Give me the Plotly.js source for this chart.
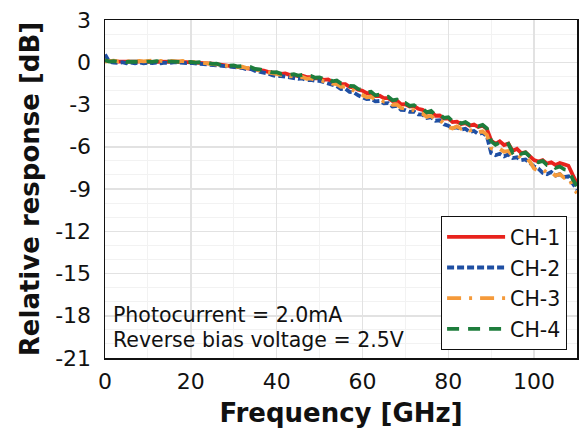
<!DOCTYPE html>
<html>
<head>
<meta charset="utf-8">
<script src="https://cdn.plot.ly/plotly-3.0.1.min.js"></script>
<style>html,body{margin:0;padding:0;background:#fff;}#chart{width:581px;height:428px;}</style>
</head>
<body>
<div id="chart"></div>
<script>
// Frequency [GHz]
const freq = [
  0,1,2,3,4,5,6,7,8,9,10,11,12,13,14,15,16,17,18,19,20,21,22,23,24,25,26,27,28,29,
  30,31,32,33,34,35,36,37,38,39,40,41,42,43,44,45,46,47,48,49,50,51,52,53,54,55,56,57,58,59,
  60,61,62,63,64,65,66,67,68,69,70,71,72,73,74,75,76,77,78,79,80,81,82,83,84,85,86,87,88,89,
  90,91,92,93,94,95,96,97,98,99,100,101,102,103,104,105,106,107,108,109,110];

const ch1 = [
  0.10,0.05,0.06,0.04,0.05,0.03,0.06,0.02,0.05,0.03,
  0.04,0.05,0.06,0.03,0.05,0.06,0.04,0.05,0.02,0.01,
  0.00,-0.02,-0.04,-0.06,-0.08,-0.10,-0.14,-0.18,-0.20,-0.24,
  -0.27,-0.30,-0.34,-0.38,-0.42,-0.50,-0.55,-0.60,-0.68,-0.75,
  -0.78,-0.82,-0.80,-0.90,-0.92,-0.98,-0.96,-1.05,-1.05,-1.15,
  -1.15,-1.25,-1.22,-1.40,-1.38,-1.55,-1.55,-1.75,-1.78,-1.95,
  -2.02,-2.20,-2.18,-2.40,-2.38,-2.55,-2.55,-2.75,-2.72,-3.00,
  -2.98,-3.15,-3.12,-3.30,-3.38,-3.58,-3.52,-3.80,-3.78,-4.00,
  -3.98,-4.25,-4.22,-4.38,-4.32,-4.50,-4.42,-4.60,-4.50,-4.75,
  -5.55,-5.80,-5.62,-5.88,-5.78,-6.30,-6.15,-6.45,-6.40,-6.70,
  -6.95,-7.05,-6.95,-7.20,-7.10,-7.30,-7.15,-7.25,-7.35,-8.00,-8.60];

const ch2 = [
  0.55,0.02,-0.02,-0.05,0.00,-0.08,-0.03,-0.07,-0.02,-0.08,
  -0.03,-0.06,-0.02,-0.07,-0.03,-0.05,0.00,-0.04,-0.02,-0.06,
  -0.05,-0.08,-0.10,-0.12,-0.15,-0.18,-0.22,-0.28,-0.30,-0.35,
  -0.35,-0.42,-0.40,-0.50,-0.48,-0.62,-0.68,-0.72,-0.80,-0.92,
  -1.00,-0.98,-1.02,-1.10,-1.12,-1.18,-1.15,-1.28,-1.25,-1.32,
  -1.32,-1.42,-1.45,-1.62,-1.70,-1.90,-1.88,-2.10,-2.15,-2.35,
  -2.50,-2.62,-2.60,-2.78,-2.75,-2.92,-2.90,-3.15,-3.10,-3.38,
  -3.40,-3.52,-3.50,-3.70,-3.72,-3.95,-3.90,-4.15,-4.12,-4.40,
  -4.50,-4.68,-4.62,-4.78,-4.72,-4.95,-4.88,-5.10,-5.00,-5.25,
  -6.45,-6.60,-6.50,-6.68,-6.55,-6.80,-6.75,-6.95,-6.90,-7.15,
  -7.40,-7.55,-7.85,-7.95,-7.80,-8.05,-7.95,-8.15,-8.10,-8.60,-9.05];

const ch3 = [
  0.05,0.08,0.12,0.06,0.10,0.05,0.09,0.04,0.10,0.06,
  0.08,0.12,0.07,0.10,0.06,0.11,0.08,0.05,0.09,0.04,
  0.02,0.00,-0.02,-0.06,-0.04,-0.10,-0.12,-0.18,-0.20,-0.26,
  -0.28,-0.35,-0.32,-0.42,-0.40,-0.52,-0.58,-0.65,-0.70,-0.80,
  -0.85,-0.90,-0.88,-1.00,-0.98,-1.08,-1.05,-1.18,-1.15,-1.25,
  -1.25,-1.35,-1.35,-1.52,-1.55,-1.75,-1.72,-1.95,-2.00,-2.18,
  -2.35,-2.48,-2.45,-2.65,-2.62,-2.80,-2.78,-3.02,-3.00,-3.25,
  -3.28,-3.42,-3.40,-3.60,-3.65,-3.88,-3.80,-4.08,-4.10,-4.35,
  -4.60,-4.70,-4.55,-4.72,-4.65,-4.85,-4.78,-4.98,-4.90,-5.15,
  -6.10,-6.25,-6.15,-6.35,-6.30,-6.65,-6.55,-6.80,-6.75,-7.05,
  -7.55,-7.70,-7.60,-7.85,-7.80,-8.05,-7.95,-8.20,-8.15,-8.80,-9.30];

const ch4 = [
  0.15,0.05,0.08,0.03,0.06,0.02,0.05,0.03,0.07,0.02,
  0.05,0.03,0.08,0.04,0.07,0.05,0.08,0.03,0.05,0.00,
  0.02,-0.03,0.00,-0.08,-0.05,-0.12,-0.10,-0.20,-0.15,-0.25,
  -0.22,-0.30,-0.28,-0.38,-0.35,-0.48,-0.50,-0.58,-0.62,-0.72,
  -0.70,-0.82,-0.75,-0.88,-0.85,-0.95,-0.90,-1.02,-0.98,-1.10,
  -1.08,-1.20,-1.15,-1.35,-1.30,-1.50,-1.45,-1.68,-1.70,-1.90,
  -1.95,-2.15,-2.10,-2.35,-2.30,-2.50,-2.45,-2.70,-2.65,-2.95,
  -2.90,-3.10,-3.05,-3.25,-3.30,-3.55,-3.45,-3.75,-3.70,-3.95,
  -3.90,-4.20,-4.15,-4.35,-4.25,-4.45,-4.35,-4.55,-4.45,-4.70,
  -5.60,-5.85,-5.70,-5.90,-5.80,-6.40,-6.20,-6.50,-6.40,-6.75,
  -7.00,-7.10,-7.00,-7.30,-7.25,-7.50,-7.40,-7.60,-7.65,-8.30,-8.80];

const seriesNames = ["CH-1", "CH-2", "CH-3", "CH-4"];
const xTickVals = [0, 20, 40, 60, 80, 100];
const xTickText = ["0", "20", "40", "60", "80", "100"];
const yTickVals = [3, 0, -3, -6, -9, -12, -15, -18, -21];
const yTickText = ["3", "0", "-3", "-6", "-9", "-12", "-15", "-18", "-21"];
const noteLines = ["Photocurrent = 2.0mA", "Reverse bias voltage = 2.5V"];

const colors = ["#e8231d", "#1f4fa3", "#f59a3a", "#1e7d3c"];
const dashes = ["solid", "7px,3px", "14px,8px,3px,8px", "12px,9px"];
const ys = [ch1, ch2, ch3, ch4];

const FONT = "DejaVu Sans, Verdana, sans-serif";

const traces = ys.map((y, i) => ({
  type: "scatter", mode: "lines", x: freq, y: y, name: seriesNames[i],
  legendgroup: "g" + i,
  line: { color: colors[i], width: 3.8, dash: dashes[i] }
}));

const noteY = [0.127, 0.053];
const annotations = noteLines.map((t, i) => ({
  xref: "paper", yref: "paper", x: 0.012, y: noteY[i], xanchor: "left", yanchor: "middle",
  align: "left", showarrow: false, text: t,
  font: { family: FONT, size: 20.5, color: "#111" }
}));

const layout = {
  width: 581, height: 428,
  margin: { l: 105, r: 4, t: 20, b: 70 },
  paper_bgcolor: "#fff", plot_bgcolor: "#fff",
  font: { family: FONT, color: "#111", size: 20 },
  showlegend: true,
  legend: {
    x: 0.979, xanchor: "right", y: 0.42, yanchor: "top",
    bgcolor: "#fff", bordercolor: "#111", borderwidth: 1,
    font: { family: FONT, size: 20.5, color: "#111" },
    itemwidth: 58, tracegroupgap: 1, traceorder: "grouped"
  },
  xaxis: {
    range: [0, 110], tickmode: "array", tickvals: xTickVals, ticktext: xTickText,
    showline: true, mirror: true, linecolor: "#111", linewidth: 1.5,
    showgrid: true, gridcolor: "#e2e2e2", gridwidth: 1.5,
    minor: { tickmode: "linear", tick0: 0, dtick: 10, showgrid: true, gridcolor: "#f2f2f2", gridwidth: 1 },
    zeroline: false, ticks: "", ticklabelstandoff: 3,
    tickfont: { family: FONT, size: 22, color: "#111" },
    title: { text: "<b>Frequency [GHz]</b>", font: { family: FONT, size: 26, color: "#111" }, standoff: 13 }
  },
  yaxis: {
    range: [-21, 3], tickmode: "array", tickvals: yTickVals, ticktext: yTickText,
    showline: true, mirror: true, linecolor: "#111", linewidth: 1.5,
    showgrid: true, gridcolor: "#e2e2e2", gridwidth: 1.5,
    minor: { tickmode: "linear", tick0: -21, dtick: 1, showgrid: true, gridcolor: "#f2f2f2", gridwidth: 1 },
    zeroline: false, ticks: "", ticklabelstandoff: 8,
    tickfont: { family: FONT, size: 22, color: "#111" },
    title: { text: "<b>Relative response [dB]</b>", font: { family: FONT, size: 26, color: "#111" }, standoff: 8 }
  },
  annotations: annotations
};

Plotly.newPlot("chart", traces, layout, { displayModeBar: false, staticPlot: true });
</script>
</body>
</html>
